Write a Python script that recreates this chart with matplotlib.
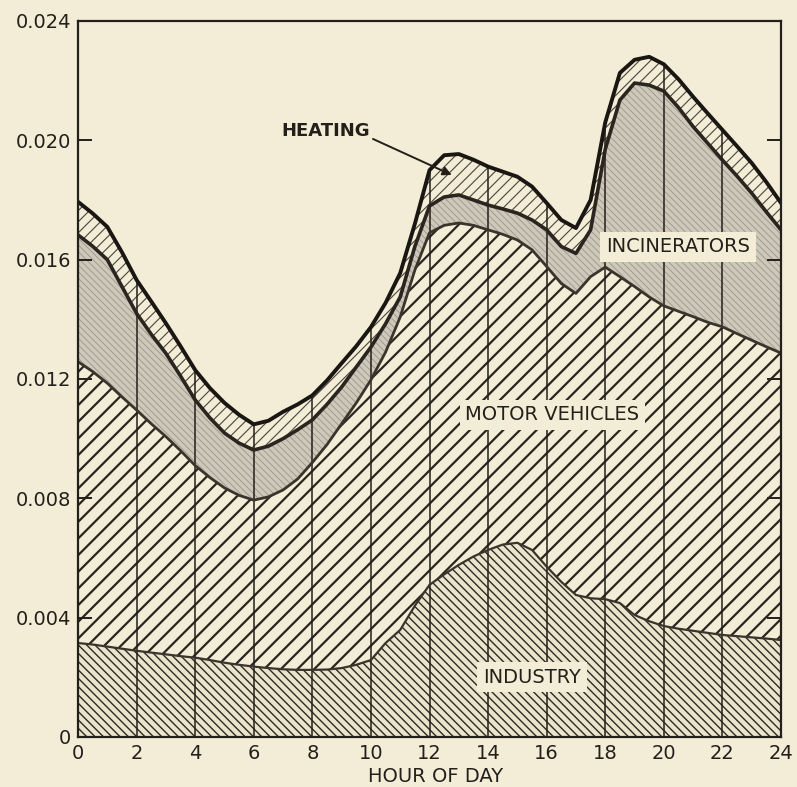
import numpy as np
import matplotlib
matplotlib.use("Agg")
import matplotlib.pyplot as plt

# ---------------- data (values in units of 0.001) ----------------
hours = np.arange(0, 24.5, 0.5)

industry = [3.15, 3.10, 3.03, 2.96, 2.89, 2.83, 2.77, 2.71, 2.66, 2.58,
            2.49, 2.42, 2.36, 2.31, 2.27, 2.25, 2.25, 2.26, 2.31, 2.42,
            2.58, 3.15, 3.59, 4.40, 5.10, 5.45, 5.77, 6.05, 6.27, 6.45,
            6.51, 6.27, 5.71, 5.20, 4.76, 4.65, 4.62, 4.49, 4.09, 3.88,
            3.72, 3.63, 3.56, 3.49, 3.42, 3.38, 3.34, 3.30, 3.25]

motor_vehicles = [9.43, 9.15, 8.83, 8.44, 8.07, 7.67, 7.30, 6.89, 6.44, 6.12,
                  5.86, 5.68, 5.58, 5.74, 6.01, 6.40, 6.95, 7.54, 8.19, 8.78,
                  9.39, 9.75, 10.49, 11.25, 11.80, 11.70, 11.46, 11.10, 10.73, 10.40,
                  10.15, 10.06, 10.06, 10.00, 10.11, 10.78, 11.13, 10.94, 11.01, 10.87,
                  10.73, 10.64, 10.53, 10.41, 10.33, 10.14, 9.96, 9.78, 9.62]

incinerators = [4.25, 4.20, 4.14, 3.70, 3.24, 3.00, 2.79, 2.50, 2.20, 2.00,
                1.84, 1.75, 1.68, 1.70, 1.72, 1.65, 1.43, 1.35, 1.23, 1.20,
                1.10, 0.95, 0.67, 0.79, 0.90, 0.95, 0.94, 0.85, 0.83, 0.85,
                0.90, 1.00, 1.23, 1.24, 1.34, 1.57, 3.95, 5.92, 6.82, 7.10,
                7.20, 6.83, 6.37, 6.00, 5.59, 5.28, 4.93, 4.52, 4.13]

heating = [1.11, 1.10, 1.10, 1.15, 1.12, 1.10, 1.01, 1.00, 1.00, 1.00,
           1.01, 0.95, 0.86, 0.85, 0.90, 0.85, 0.82, 0.80, 0.80, 0.70,
           0.67, 0.70, 0.80, 0.76, 1.20, 1.40, 1.37, 1.35, 1.29, 1.25,
           1.22, 1.12, 0.90, 0.89, 0.85, 1.00, 0.90, 0.91, 0.78, 0.95,
           0.90, 0.95, 1.00, 1.00, 1.01, 1.00, 1.01, 1.00, 0.90]

ytick_vals = [0, 0.004, 0.008, 0.012, 0.016, 0.020, 0.024]
ytick_labels = ["0", "0.004", "0.008", "0.012", "0.016", "0.020", "0.024"]
xtick_vals = list(range(0, 25, 2))
xtick_labels = [str(v) for v in xtick_vals]

# ---------------- drawing ----------------
paper = "#f3edd7"
ink = "#231f1a"

scale = 1e-3
b1 = np.array(industry) * scale
b2 = b1 + np.array(motor_vehicles) * scale
b3 = b2 + np.array(incinerators) * scale
b4 = b3 + np.array(heating) * scale

fig = plt.figure(figsize=(7.97, 7.87), dpi=100, facecolor=paper)
ax = fig.add_axes([78 / 797, 50 / 787, 703 / 797, 716 / 787])
ax.set_facecolor(paper)

layers = [
    (np.zeros_like(b1), b1, "#ebe4cc", "\\\\\\\\", "#2e2924", 1.0),
    (b1, b2, paper, "//", "#2a251f", 1.6),
    (b2, b3, "#cdc9ba", "\\\\\\\\\\", "#9a9588", 0.6),
    (b3, b4, paper, "///", "#4a443c", 0.8),
]
for lo, hi, face, hatch, hcol, hlw in layers:
    with plt.rc_context({"hatch.linewidth": hlw}):
        ax.fill_between(hours, lo, hi, facecolor=face, edgecolor=hcol,
                        hatch=hatch, linewidth=0, zorder=1)

ax.plot(hours, b1, color="#3a342c", lw=1.6, zorder=3)
ax.plot(hours, b2, color="#3a342c", lw=2.0, zorder=3)
ax.plot(hours, b3, color="#2a251f", lw=2.6, zorder=3)
ax.plot(hours, b4, color="#1a1612", lw=2.8, zorder=3)

ax.vlines(hours[::4], 0, b4[::4], color=ink, lw=1.1, zorder=2)

ax.set_xlim(0, 24)
ax.set_ylim(0, 0.024)
ax.set_yticks(ytick_vals)
ax.set_yticklabels(ytick_labels)
ax.set_xticks(xtick_vals)
ax.set_xticklabels(xtick_labels)
ax.tick_params(axis="y", direction="in", length=10, width=1.4, right=True,
               labelsize=14, pad=5, colors=ink)
ax.tick_params(axis="x", length=0, labelsize=14, pad=5, colors=ink)
for s in ax.spines.values():
    s.set_linewidth(1.6)
    s.set_color(ink)
    s.set_zorder(4)

ax.text((436 - 78) / 703, -(777 - 737) / 716, "HOUR OF DAY",
        transform=ax.transAxes, ha="center", va="center", fontsize=14,
        color=ink)

box = dict(facecolor=paper, edgecolor="none", pad=4)
ax.text(20.48, 0.01643, "INCINERATORS", ha="center", va="center",
        fontsize=14, color=ink, bbox=box, zorder=6)
ax.text(16.2, 0.0108, "MOTOR VEHICLES", ha="center", va="center",
        fontsize=14, color=ink, bbox=box, zorder=6)
ax.text(15.5, 0.00201, "INDUSTRY", ha="center", va="center",
        fontsize=14, color=ink, bbox=box, zorder=6)

ax.annotate("HEATING", xy=(12.76, 0.01884), xytext=(6.95, 0.02030),
            ha="left", va="center", fontsize=13, fontweight="bold",
            color=ink, zorder=6,
            arrowprops=dict(arrowstyle="-|>", color=ink, lw=1.4,
                            shrinkA=0, shrinkB=0, relpos=(1.0, 0.15),
                            mutation_scale=13))

fig.savefig("out.png", dpi=100, facecolor=paper)
